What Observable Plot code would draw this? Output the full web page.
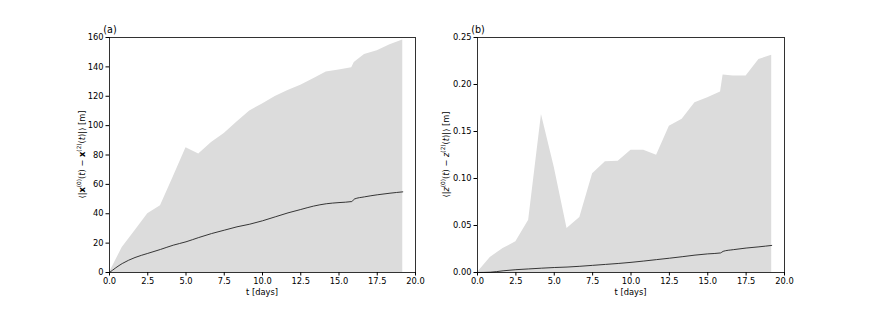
<!DOCTYPE html>
<html>
<head>
<meta charset="utf-8">
<script src="https://cdn.jsdelivr.net/npm/d3@7"></script>
<script src="https://cdn.jsdelivr.net/npm/@observablehq/plot@0.6"></script>
<style>
  html, body { margin: 0; padding: 0; background: #fff; }
  #fig { display: flex; width: 872px; height: 312px; }
</style>
</head>
<body>
<div id="fig"></div>
<script>
// time in days
const t = [0, 0.833, 1.667, 2.5, 3.333, 4.167, 5, 5.833, 6.667, 7.5, 8.333, 9.167, 10, 10.833, 11.667, 12.5, 13.333, 14.167, 15, 15.833, 16, 16.667, 17.5, 18.333, 19.167];
// panel (a): horizontal separation
const aUpper = [0, 17, 28.5, 40, 45.5, 65, 85, 80.7, 88.5, 94.6, 102.5, 110, 114.8, 119.8, 124, 127.5, 132, 136.5, 137.8, 139.4, 143, 148.5, 151, 155, 158.3];
const aMean  = [0, 6.1, 10.2, 13, 15.7, 18.6, 20.9, 23.8, 26.5, 28.8, 31.1, 32.9, 35.2, 37.9, 40.6, 42.9, 45.2, 46.8, 47.6, 48.3, 50, 51.5, 52.9, 54, 54.9];
// panel (b): vertical separation
const bUpper = [0, 0.016, 0.0255, 0.0326, 0.0557, 0.168, 0.112, 0.0468, 0.0585, 0.105, 0.1177, 0.1184, 0.130, 0.130, 0.1248, 0.1557, 0.163, 0.1805, 0.186, 0.192, 0.21, 0.209, 0.209, 0.2266, 0.231];
const bMean  = [0, 0.0003, 0.0018, 0.003, 0.0038, 0.0046, 0.0053, 0.0058, 0.0066, 0.0076, 0.0086, 0.0096, 0.0108, 0.0122, 0.0137, 0.0152, 0.0168, 0.0185, 0.0198, 0.0208, 0.0225, 0.0243, 0.026, 0.0273, 0.0288];

const xTicks = [0, 2.5, 5, 7.5, 10, 12.5, 15, 17.5, 20];
const aTicks = [0, 20, 40, 60, 80, 100, 120, 140, 160];
const bTicks = [0, 0.05, 0.10, 0.15, 0.20, 0.25];

const FONT = "DejaVu Sans";

function panel({upper, mean, yDomain, yTicks, yFormat, mL, mR, tag, yLabelX, sym, bold}) {
  const data = t.map((d, i) => ({t: d, up: upper[i], m: mean[i]}));
  const W = 436, H = 312, mT = 37, mB = 40;
  const svg = Plot.plot({
    width: W, height: H,
    marginLeft: mL, marginRight: mR, marginTop: mT, marginBottom: mB,
    style: {fontFamily: FONT, fontSize: "8.3px", background: "#fff", color: "#000"},
    x: {domain: [0, 20], ticks: xTicks, tickFormat: d3.format(".1f"), tickSize: 3.5, tickPadding: 2.5, label: null},
    y: {domain: yDomain, ticks: yTicks, tickFormat: yFormat, tickSize: 3.5, tickPadding: 2.5, label: null},
    marks: [
      Plot.areaY(data, {x: "t", y1: 0, y2: "up", fill: "#dcdcdc"}),
      Plot.lineY(data, {x: "t", y: "m", stroke: "#222", strokeWidth: 0.9, curve: "monotone-x"}),
      Plot.frame({stroke: "#000", strokeWidth: 0.8})
    ]
  });
  const s = d3.select(svg);
  const plotL = mL, plotR = W - mR;
  // panel tag
  s.append("text").attr("x", plotL + 1).attr("y", mT - 4)
    .attr("font-family", FONT).attr("font-size", 9.6).text(tag);
  // x label
  s.append("text").attr("x", (plotL + plotR) / 2).attr("y", 295)
    .attr("text-anchor", "middle").attr("font-family", FONT).attr("font-size", 8.3)
    .text("t [days]");
  // y label with super-scripts
  const cy = (mT + (H - mB)) / 2;
  const yl = s.append("text")
    .attr("transform", `translate(${yLabelX},${cy}) rotate(-90)`)
    .attr("text-anchor", "middle").attr("dominant-baseline", "middle")
    .attr("font-family", FONT).attr("font-size", 8.3);
  const parts = [
    ["⟨|"], [sym, bold ? "b" : "i"], ["(0)", "sup"], ["("], ["t", "i"], [") − "],
    [sym, bold ? "b" : "i"], ["(2)", "sup"], ["("], ["t", "i"], [")|⟩ [m]"]
  ];
  let shifted = false;
  for (const [txt, kind] of parts) {
    const ts = yl.append("tspan").text(txt);
    if (kind === "b") ts.attr("font-weight", "bold");
    if (kind === "i") ts.attr("font-style", "italic");
    if (kind === "sup") {
      ts.attr("font-size", 5.8).attr("dy", -3);
      shifted = true;
    } else if (shifted) {
      ts.attr("dy", 3);
      shifted = false;
    }
  }
  return svg;
}

const fig = document.getElementById("fig");
fig.appendChild(panel({
  upper: aUpper, mean: aMean, yDomain: [0, 160], yTicks: aTicks, yFormat: d3.format("d"),
  mL: 109, mR: 21, tag: "(a)", yLabelX: 82, sym: "x", bold: true
}));
fig.appendChild(panel({
  upper: bUpper, mean: bMean, yDomain: [0, 0.25], yTicks: bTicks, yFormat: d3.format(".2f"),
  mL: 41, mR: 88, tag: "(b)", yLabelX: 10, sym: "z", bold: false
}));
</script>
</body>
</html>
